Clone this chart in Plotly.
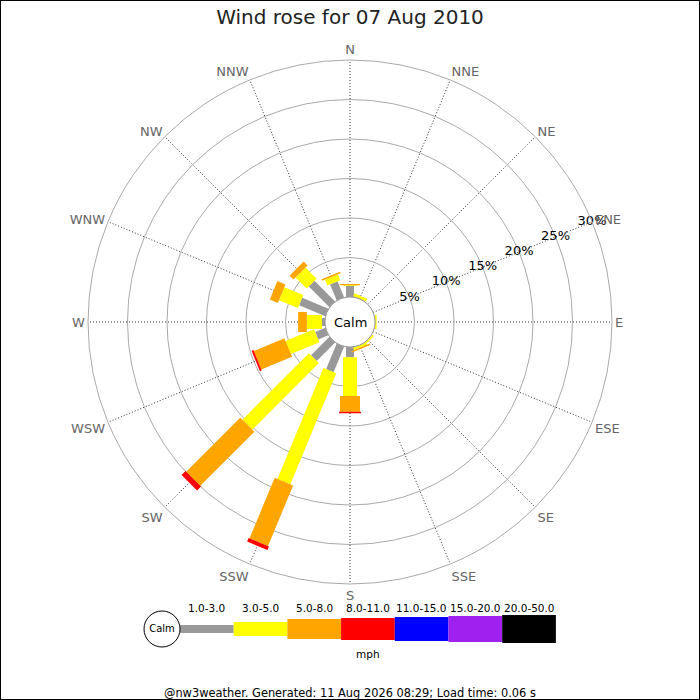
import plotly.graph_objects as go

# ---------------- data ----------------
directions = ["N", "NNE", "NE", "ENE", "E", "ESE", "SE", "SSE",
              "S", "SSW", "SW", "WSW", "W", "WNW", "NW", "NNW"]
angles = [0, 22.5, 45, 67.5, 90, 112.5, 135, 157.5,
          180, 202.5, 225, 247.5, 270, 292.5, 315, 337.5]

speed_classes = ["1.0-3.0", "3.0-5.0", "5.0-8.0", "8.0-11.0",
                 "11.0-15.0", "15.0-20.0", "20.0-50.0"]
class_colors = ["#999999", "#ffff00", "#ffa500", "#ff0000",
                "#0000ff", "#a020f0", "#000000"]
class_widths = [8, 14, 20, 22, 24, 26, 28]

# percentage of time in each speed class, per direction (N .. NNW)
pct_1_3 = [1.4, 0, 0, 0, 0, 0, 0, 0, 1.3, 3.5, 3.3, 1.4, 0.38, 3.6, 3.7, 2.2]
pct_3_5 = [0.1, 0.4, 0, 0, 0.2, 0, 0.25, 0.3, 4.9, 15.2, 11.9, 3.9, 1.92, 2.6, 2.0, 0.8]
pct_5_8 = [0.15, 0, 0, 0, 0, 0, 0, 0.2, 2.0, 8.3, 9.7, 4.2, 1.1, 1.1, 0.7, 0.2]
pct_8_11 = [0, 0, 0, 0, 0, 0, 0, 0, 0.2, 0.5, 0.7, 0.25, 0, 0, 0, 0]
pct_11_15 = [0, 0, 0, 0, 0, 0, 0, 0, 0, 0, 0, 0, 0, 0, 0, 0]
pct_15_20 = [0, 0, 0, 0, 0, 0, 0, 0, 0, 0, 0, 0, 0, 0, 0, 0]
pct_20_50 = [0, 0, 0, 0, 0, 0, 0, 0, 0, 0, 0, 0, 0, 0, 0, 0]
class_values = [pct_1_3, pct_3_5, pct_5_8, pct_8_11, pct_11_15, pct_15_20, pct_20_50]

radial_ticks = [5, 10, 15, 20, 25, 30]
radial_labels = ["5%", "10%", "15%", "20%", "25%", "30%"]
radial_label_angle = 67.5

title_text = "Wind rose for 07 Aug 2010"
footer_text = "@nw3weather. Generated: 11 Aug 2026 08:29; Load time: 0.06 s"
unit_text = "mph"
calm_text = "Calm"

# ---------------- layout constants ----------------
W = H = 700
FONT = "DejaVu Sans"
pol_x = [88 / W, 612 / W]
pol_y = [116 / H, 640 / H]
hole = 25 / 262

fig = go.Figure()

# rose bars: constant-width radial segments drawn on the polar axes
cum = [0.0] * len(directions)
for ci, vals in enumerate(class_values):
    rr, tt = [], []
    for di, v in enumerate(vals):
        if v > 0:
            rr += [cum[di], cum[di] + v, None]
            tt += [angles[di], angles[di], None]
            cum[di] += v
    if rr:
        fig.add_trace(go.Scatterpolar(
            r=rr, theta=tt, mode="lines", connectgaps=False,
            line=dict(color=class_colors[ci], width=class_widths[ci]),
            hoverinfo="skip", showlegend=False))

# radial tick labels centred on the ENE spoke
fig.add_trace(go.Scatterpolar(
    r=radial_ticks, theta=[radial_label_angle] * len(radial_ticks),
    mode="text", text=radial_labels,
    textfont=dict(family=FONT, size=13, color="#000000"),
    hoverinfo="skip", showlegend=False))

# ---------------- legend strip (hidden cartesian axes) ----------------
seg_px = 53.7
leg_x0_px = 180
leg_y_px = 629
for ci, name in enumerate(speed_classes):
    fig.add_trace(go.Scatter(
        x=[ci, ci + 1], y=[0, 0], mode="lines",
        line=dict(color=class_colors[ci], width=class_widths[ci]),
        hoverinfo="skip", showlegend=False))
    fig.add_annotation(x=ci + 0.5, y=21, xref="x", yref="y", text=name,
                       showarrow=False, font=dict(family=FONT, size=10.5, color="#000000"))
fig.add_annotation(x=len(speed_classes) / 2, y=-25, xref="x", yref="y", text=unit_text,
                   showarrow=False, font=dict(family=FONT, size=10.5, color="#000000"))
fig.add_trace(go.Scatter(
    x=[-(leg_x0_px - 162) / seg_px], y=[0], mode="markers+text", text=[calm_text],
    textposition="middle center",
    textfont=dict(family=FONT, size=10, color="#000000"),
    marker=dict(size=36, color="white", line=dict(color="#000000", width=1)),
    hoverinfo="skip", showlegend=False))

# centre calm circle (polar hole)
cx = (pol_x[0] + pol_x[1]) / 2
cy = (pol_y[0] + pol_y[1]) / 2
rad = hole * (pol_x[1] - pol_x[0]) / 2
fig.add_shape(type="circle", xref="paper", yref="paper",
              x0=cx - rad, x1=cx + rad, y0=cy - rad, y1=cy + rad,
              line=dict(color="#999999", width=1), fillcolor="white", layer="above")
fig.add_annotation(x=cx, y=cy, xref="paper", yref="paper", text=calm_text,
                   showarrow=False, font=dict(family=FONT, size=13, color="#000000"))

# footer and border
fig.add_annotation(x=0.5, y=7 / H, xref="paper", yref="paper", text=footer_text,
                   showarrow=False, yanchor="middle",
                   font=dict(family=FONT, size=11.4, color="#000000"))
fig.add_shape(type="rect", xref="paper", yref="paper", x0=0, x1=1, y0=0, y1=1,
              line=dict(color="#000000", width=2), layer="above")

fig.update_layout(
    width=W, height=H,
    margin=dict(l=0, r=0, t=0, b=0),
    paper_bgcolor="white", plot_bgcolor="rgba(0,0,0,0)",
    font=dict(family=FONT, color="#000000"),
    title=dict(text=title_text, x=0.5, xanchor="center", y=1 - 17 / H, yanchor="middle",
               font=dict(family=FONT, size=20, color="#222222")),
    showlegend=False,
    xaxis=dict(domain=[0, 1], range=[-leg_x0_px / seg_px, (W - leg_x0_px) / seg_px],
               visible=False, fixedrange=True),
    yaxis=dict(domain=[0, 1], range=[-(H - leg_y_px), leg_y_px],
               visible=False, fixedrange=True),
    polar=dict(
        domain=dict(x=pol_x, y=pol_y),
        hole=hole,
        bgcolor="white",
        radialaxis=dict(range=[0, 30], tickvals=radial_ticks, showticklabels=False,
                        ticks="", showline=False, gridcolor="#aaaaaa", gridwidth=1,
                        angle=22.5),
        angularaxis=dict(rotation=90, direction="clockwise", tickmode="array",
                         tickvals=angles, ticktext=directions, ticks="",
                         showline=True, linecolor="#aaaaaa", linewidth=1,
                         gridcolor="#333333", griddash="1px,2px", gridwidth=1,
                         tickfont=dict(family=FONT, size=13, color="#666666")),
    ),
)

fig.write_html("out.html", config={"displayModeBar": False},
               post_script="document.body.style.margin='0';")
